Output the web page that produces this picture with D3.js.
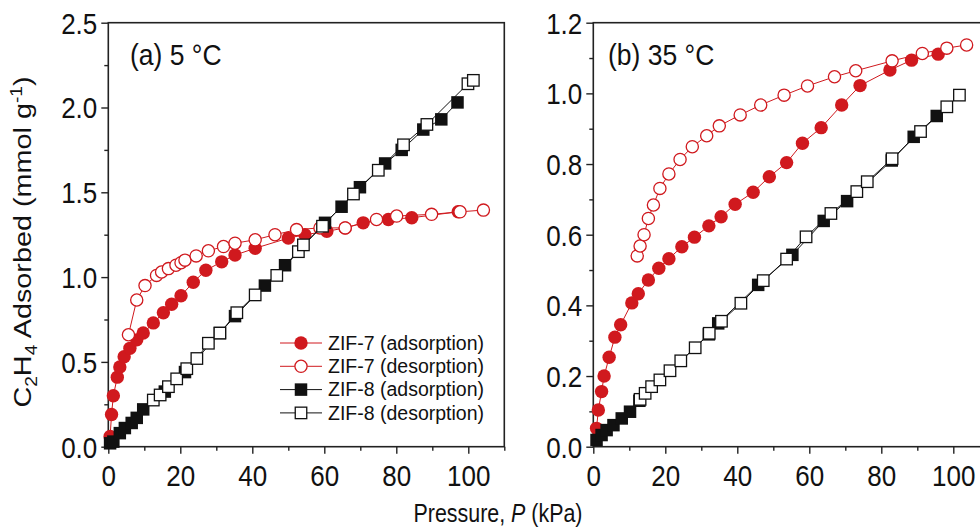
<!DOCTYPE html>
<html><head><meta charset="utf-8">
<script src="https://cdn.jsdelivr.net/npm/d3@7"></script>
<style>body{margin:0;background:#fff}svg{display:block}</style>
</head><body><svg id="c" width="980" height="530"></svg>
<script>
// ---------- DATA ----------
const seriesNames = ["ZIF-7 (adsorption)","ZIF-7 (desorption)","ZIF-8 (adsorption)","ZIF-8 (desorption)"];
const panelLabels = ["(a) 5 \u00B0C","(b) 35 \u00B0C"];
const xTicks = [0,20,40,60,80,100];
const yTicksA = [0.0,0.5,1.0,1.5,2.0,2.5];
const yTicksB = [0.0,0.2,0.4,0.6,0.8,1.0,1.2];

// Panel (a) 5 °C
const a_zif7Ads_P = [0.5,0.9,1.4,2.5,3.2,4.4,6.0,7.9,9.7,12.5,15.3,17.6,20.2,23.6,27.1,31.5,35.2,40.8,50,54.6,60.7,65.8,70.8,77.8,84.3,97.2];
const a_zif7Ads_Q = [0.06,0.19,0.30,0.41,0.47,0.53,0.58,0.63,0.67,0.73,0.79,0.84,0.89,0.97,1.04,1.09,1.13,1.17,1.23,1.25,1.27,1.29,1.32,1.34,1.35,1.385];
const a_zif7Des_P = [104.2,97.7,89.8,80.1,74.5,65.8,58.8,52.3,46.3,40.8,35.2,32,27.8,24.4,21.3,20.2,18.8,16.7,14.8,13.4,10.2,7.9,5.6];
const a_zif7Des_Q = [1.395,1.385,1.37,1.36,1.34,1.29,1.29,1.28,1.25,1.22,1.20,1.18,1.155,1.125,1.10,1.085,1.07,1.05,1.03,1.01,0.95,0.865,0.66];
const a_zif8Ads_P = [0.5,1.4,3.2,4.6,6.5,7.9,9.7,15.7,21.3,31,35.2,43.5,49.1,60.2,64.8,69.9,76.9,81.5,87.5,92.5,97];
const a_zif8Ads_Q = [0.02,0.03,0.08,0.11,0.14,0.17,0.22,0.325,0.44,0.67,0.77,0.95,1.07,1.32,1.415,1.53,1.67,1.75,1.87,1.93,2.03];
const a_zif8Des_P = [101.4,99.9,88.5,82,75,68.1,59.5,54.2,52.8,46.8,40.8,35.7,31,27.8,24.6,21.8,19,16.7,14.4,12.5];
const a_zif8Des_Q = [2.16,2.14,1.9,1.78,1.63,1.49,1.30,1.19,1.15,1.01,0.895,0.79,0.67,0.61,0.52,0.46,0.40,0.354,0.305,0.275];

// Panel (b) 35 °C
const b_zif7Ads_P = [0.9,1.4,2.3,3.0,4.4,6.0,7.6,10.7,12.5,15.3,18.2,21,24.6,28.1,32.1,35.5,39.4,44.4,48.9,53.7,58.1,63.3,69,74.1,82.4,88.4,95.8];
const b_zif7Ads_Q = [0.052,0.104,0.156,0.20,0.253,0.31,0.345,0.407,0.433,0.472,0.505,0.532,0.566,0.593,0.625,0.651,0.686,0.72,0.764,0.804,0.859,0.903,0.967,1.022,1.066,1.094,1.111];
const b_zif7Des_P = [103.7,98.2,91.4,83,72.9,67,59.5,53,46.5,40.8,35,31.5,27.5,24.1,21,18.5,16.7,15.3,14.1,13,12.2];
const b_zif7Des_Q = [1.137,1.128,1.113,1.092,1.064,1.047,1.021,0.995,0.967,0.939,0.908,0.88,0.849,0.813,0.772,0.731,0.684,0.646,0.60,0.568,0.54];
const b_zif8Ads_P = [0.9,2.3,3.7,5.6,7.9,10.2,12.8,32.1,34.7,45.8,55.3,64,70.5,82.9,89,95.4];
const b_zif8Ads_Q = [0.019,0.033,0.047,0.061,0.08,0.099,0.13,0.318,0.349,0.458,0.543,0.639,0.695,0.81,0.877,0.936];
const b_zif8Des_P = [101.7,98.2,90.9,83,76.1,73.2,66,59.1,53.7,47.2,41,35.6,32.2,28.3,24.3,21.3,18.5,16.2,14.4,13];
const b_zif8Des_Q = [0.995,0.962,0.892,0.815,0.75,0.722,0.66,0.594,0.531,0.47,0.406,0.355,0.321,0.28,0.243,0.215,0.189,0.17,0.151,0.134];

// ---------- DRAW ----------
const RED = "#d0191e", BLACK = "#111";
const svg = d3.select("#c");
const yTop = 22.7, yBot = 446.7;
const font = "'Liberation Sans', Arial, sans-serif";

const panels = [
  {x0:108.3, label:panelLabels[0], lx:130, yMax:2.5, yTicks:yTicksA, yMinor:0.25,
   s:[[a_zif7Ads_P,a_zif7Ads_Q],[a_zif7Des_P,a_zif7Des_Q],[a_zif8Ads_P,a_zif8Ads_Q],[a_zif8Des_P,a_zif8Des_Q]], legend:true},
  {x0:593.3, label:panelLabels[1], lx:608, yMax:1.2, yTicks:yTicksB, yMinor:0.1,
   s:[[b_zif7Ads_P,b_zif7Ads_Q],[b_zif7Des_P,b_zif7Des_Q],[b_zif8Ads_P,b_zif8Ads_Q],[b_zif8Des_P,b_zif8Des_Q]], legend:false}
];
const styles = [
  {color:RED, shape:"circle", filled:true},
  {color:RED, shape:"circle", filled:false},
  {color:BLACK, shape:"square", filled:true},
  {color:BLACK, shape:"square", filled:false}
];

function marker(g, st, x, y) {
  if (st.shape === "circle") {
    g.append("circle").attr("cx",x).attr("cy",y).attr("r", st.filled?6.7:6.1)
      .attr("fill", st.filled?st.color:"#fff").attr("stroke", st.color).attr("stroke-width", st.filled?0:1.3);
  } else {
    const s = st.filled?12.5:11.5;
    g.append("rect").attr("x",x-s/2).attr("y",y-s/2).attr("width",s).attr("height",s)
      .attr("fill", st.filled?st.color:"#fff").attr("stroke", st.color).attr("stroke-width", st.filled?0:1.3);
  }
}

panels.forEach(p => {
  const x = d3.scaleLinear().domain([0,110]).range([p.x0, p.x0 + 110*3.6]);
  const y = d3.scaleLinear().domain([0,p.yMax]).range([yBot, yTop]);
  const g = svg.append("g");

  const xMinor = d3.range(10,111,20);
  const yMinor = d3.range(0, p.yMax+1e-9, p.yMinor).filter(v => !p.yTicks.some(t=>Math.abs(t-v)<1e-6));
  const xa = g.append("g").attr("transform",`translate(0,${yBot})`)
    .call(d3.axisBottom(x).tickValues(xMinor).tickSize(4).tickFormat(""));
  const ya = g.append("g").attr("transform",`translate(${p.x0},0)`)
    .call(d3.axisLeft(y).tickValues(yMinor).tickSize(4).tickFormat(""));
  const xM = g.append("g").attr("transform",`translate(0,${yBot})`)
    .call(d3.axisBottom(x).tickValues(xTicks).tickSize(7).tickPadding(4).tickFormat(d3.format("d")));
  const yM = g.append("g").attr("transform",`translate(${p.x0},0)`)
    .call(d3.axisLeft(y).tickValues(p.yTicks).tickSize(7).tickPadding(4).tickFormat(d3.format(".1f")));
  [xa,ya,xM,yM].forEach(a => {
    a.select(".domain").remove();
    a.selectAll("line").attr("stroke","#222").attr("stroke-width",1.4);
    a.selectAll("text").attr("fill","#111").style("font-family",font).style("font-size","26px");
  });
  xM.selectAll("text").attr("dy","0.9em").attr("transform","scale(1,1.13)");
  yM.selectAll("text").attr("dy","0.36em").attr("transform","scale(1,1.1)");
  g.append("rect").attr("x",p.x0).attr("y",yTop).attr("width",110*3.6).attr("height",yBot-yTop)
    .attr("fill","none").attr("stroke","#222").attr("stroke-width",1.6);

  p.s.forEach((d,i) => {
    const st = styles[i];
    const pts = d[0].map((v,k)=>[v,d[1][k]]).sort((a,b)=>a[0]-b[0]);
    g.append("path").attr("d", d3.line().x(q=>x(q[0])).y(q=>y(q[1]))(pts))
      .attr("fill","none").attr("stroke",st.color).attr("stroke-width",1);
    const mg = g.append("g");
    pts.forEach(q => marker(mg, st, x(q[0]), y(q[1])));
  });

  g.append("text").attr("transform",`translate(${p.lx},65) scale(1,1.08)`).text(p.label)
    .style("font-family",font).style("font-size","26.5px").attr("fill","#111");

  if (p.legend) {
    const lg = g.append("g");
    seriesNames.forEach((n,i) => {
      const yy = 343 + i*23.3;
      lg.append("line").attr("x1",280).attr("x2",322).attr("y1",yy).attr("y2",yy)
        .attr("stroke",styles[i].color).attr("stroke-width",1);
      marker(lg, styles[i], 301, yy);
      lg.append("text").attr("x",328).attr("y",yy).attr("dy","0.35em").text(n)
        .style("font-family",font).style("font-size","19.5px").attr("fill","#111");
    });
  }
});

const yt = svg.append("text").attr("transform","translate(31,242) rotate(-90) scale(1.2,1)")
  .attr("text-anchor","middle").style("font-family",font).style("font-size","24px").attr("fill","#111");
yt.append("tspan").text("C");
yt.append("tspan").text("2").attr("dy","6").style("font-size","16px");
yt.append("tspan").text("H").attr("dy","-6");
yt.append("tspan").text("4").attr("dy","6").style("font-size","16px");
yt.append("tspan").text(" Adsorbed (mmol g").attr("dy","-6");
yt.append("tspan").text("-1").attr("dy","-9").style("font-size","16px");
yt.append("tspan").text(")").attr("dy","9");

const xt = svg.append("text").attr("transform","translate(498,522) scale(0.84,1)").attr("text-anchor","middle")
  .style("font-family",font).style("font-size","25.5px").attr("fill","#111");
xt.append("tspan").text("Pressure, ");
xt.append("tspan").text("P").style("font-style","italic");
xt.append("tspan").text(" (kPa)");
</script></body></html>
